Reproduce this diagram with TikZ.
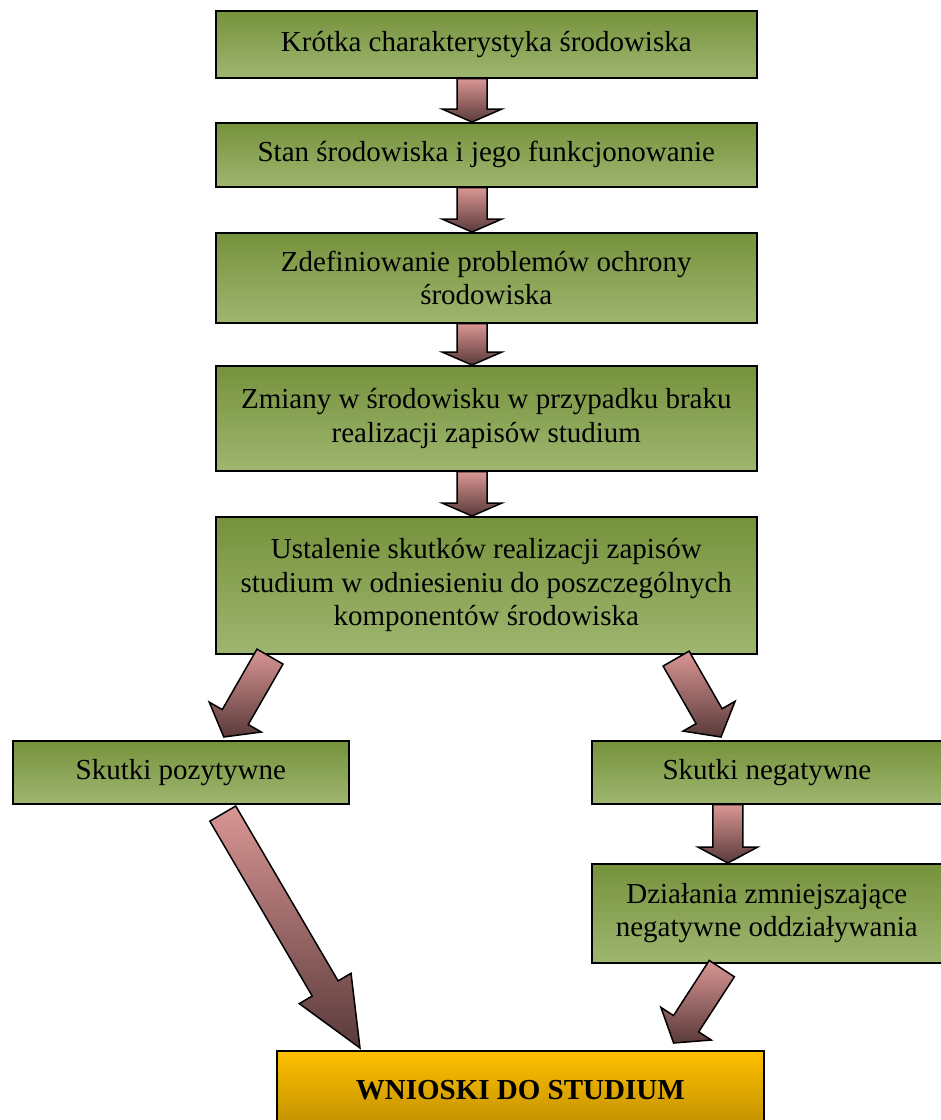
\documentclass[tikz,border=0pt]{standalone}
\usepackage{fontspec}
\setmainfont{Liberation Serif}
\usetikzlibrary{calc}
\definecolor{gtop}{HTML}{76923C}
\definecolor{gbot}{HTML}{9EB670}
\definecolor{ytop}{HTML}{FFC000}
\definecolor{ybot}{HTML}{BF8F00}
\definecolor{atop}{HTML}{D99694}
\definecolor{abot}{HTML}{5A3A3A}
\tikzset{
  box/.style={draw=black, line width=1.6pt, top color=gtop, bottom color=gbot,
    anchor=north west, inner sep=0pt, align=center,
    font=\fontsize{29}{33.5}\selectfont},
  finalbox/.style={box, top color=ytop, bottom color=ybot,
    font=\fontsize{29}{33.5}\selectfont\bfseries},
  arrowsty/.style={draw=black, line width=1.5pt, line join=miter,
    top color=atop, bottom color=abot}
}
% block arrow from #1 (tail) to #2 (tip), head length #3 (pt)
\newcommand\blockarrow[3]{%
  \coordinate (ba-h) at ($(#2)!#3pt!(#1)$);
  \shade[arrowsty]
    ($(#1)!15pt!90:(#2)$) -- ($(ba-h)!15pt!90:(#2)$) --
    ($(ba-h)!30pt!90:(#2)$) -- (#2) --
    ($(ba-h)!30pt!-90:(#2)$) -- ($(ba-h)!15pt!-90:(#2)$) --
    ($(#1)!15pt!-90:(#2)$) -- cycle;
}
\begin{document}
\begin{tikzpicture}[x=1pt, y=-1pt]
\useasboundingbox (0,0) rectangle (941,1120);
\clip (0,0) rectangle (941,1120);

\node[box, minimum width=541pt, minimum height=67pt] (b1) at (215,10)
  {Krótka charakterystyka środowiska};
\node[box, minimum width=541pt, minimum height=64pt] (b2) at (215,122)
  {Stan środowiska i jego funkcjonowanie};
\node[box, minimum width=541pt, minimum height=90pt] (b3) at (215,232)
  {Zdefiniowanie problemów ochrony\\środowiska};
\node[box, minimum width=541pt, minimum height=105pt] (b4) at (215,365)
  {Zmiany w środowisku w przypadku braku\\realizacji zapisów studium};
\node[box, minimum width=541pt, minimum height=137pt] (b5) at (215,516)
  {Ustalenie skutków realizacji zapisów\\studium w odniesieniu do poszczególnych\\komponentów środowiska};
\node[box, minimum width=336pt, minimum height=63pt] (b6) at (12,740)
  {Skutki pozytywne};
\node[box, minimum width=350pt, minimum height=63pt] (b7) at (591,740)
  {Skutki negatywne};
\node[box, minimum width=350pt, minimum height=99pt] (b8) at (591,863)
  {Działania zmniejszające\\negatywne oddziaływania};
\node[finalbox, minimum width=487pt, minimum height=78pt] (b9) at (276,1050)
  {WNIOSKI DO STUDIUM};

\coordinate (ax) at (472,0);
\coordinate (t1) at (b1.south -| ax);
\coordinate (h1) at (b2.north -| ax);
\coordinate (t2) at (b2.south -| ax);
\coordinate (h2) at (b3.north -| ax);
\coordinate (t3) at (b3.south -| ax);
\coordinate (h3) at (b4.north -| ax);
\coordinate (t4) at (b4.south -| ax);
\coordinate (h4) at (b5.north -| ax);
\coordinate (t5) at ($(b5.south west)+(55,2)$);
\coordinate (h5) at ($(b6.north)+(43,-3)$);
\coordinate (t6) at ($(b5.south east)+(-81.5,4)$);
\coordinate (h6) at ($(b7.north west)+(130,-3)$);
\coordinate (t7) at ($(b6.south)+(42,9)$);
\coordinate (h7) at ($(b9.north west)+(84,-2)$);
\coordinate (t8) at ($(b7.south)+(-39,0)$);
\coordinate (h8) at ($(b8.north)+(-39,0)$);
\coordinate (t9) at ($(b8.south)+(-45,5)$);
\coordinate (h9) at ($(b9.north east)+(-91,-7)$);

\blockarrow{t1}{h1}{13}
\blockarrow{t2}{h2}{13}
\blockarrow{t3}{h3}{13}
\blockarrow{t4}{h4}{13}
\blockarrow{t5}{h5}{23}
\blockarrow{t6}{h6}{24}
\blockarrow{t7}{h7}{69}
\blockarrow{t8}{h8}{16}
\blockarrow{t9}{h9}{23}
\end{tikzpicture}
\end{document}
